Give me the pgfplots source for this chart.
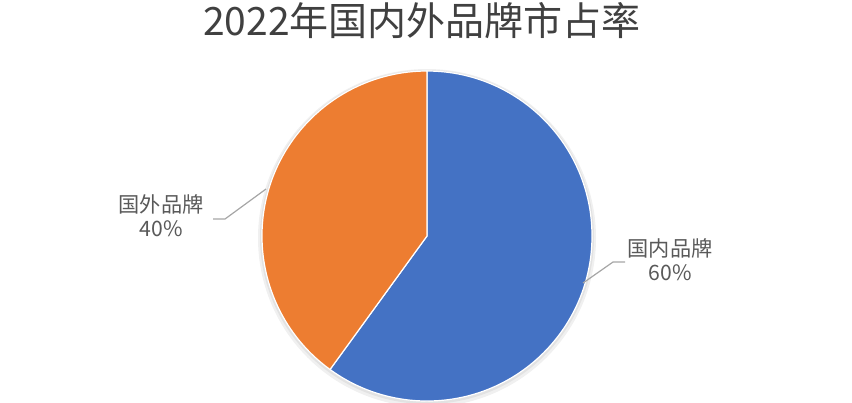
\documentclass[border=0pt]{standalone}
\usepackage{pgfplots}
\pgfplotsset{compat=1.18}
\usepackage{pgfplotstable}
\usepackage{fontspec}
\setmainfont{Noto Sans CJK SC}
\definecolor{pieblue}{HTML}{4472C4}
\definecolor{pieorange}{HTML}{ED7D31}
\definecolor{txtgray}{HTML}{595959}
\definecolor{titlegray}{HTML}{404040}
\definecolor{linegray}{HTML}{A6A6A6}
\pgfplotstableread{
brand share
国内品牌 60
国外品牌 40
}\sharetable
\begin{document}
\begin{tikzpicture}
\pgfplotstablegetelem{0}{share}\of\sharetable \let\shareA\pgfplotsretval
\pgfplotstablegetelem{1}{share}\of\sharetable \let\shareB\pgfplotsretval
\pgfmathsetmacro{\endA}{90-3.6*\shareA}
\begin{axis}[
  width=426pt, height=201pt, scale only axis,
  xmin=0, xmax=852, ymin=0, ymax=402,
  hide axis, clip=false,
]
\path[use as bounding box] (axis cs:0,0) rectangle (axis cs:852,402);
% soft shadow
\fill[black,opacity=0.06] (axis cs:427,164) circle[radius=84.5pt];
\fill[black,opacity=0.06] (axis cs:427,165) circle[radius=83.5pt];
% slices
\fill[pieblue,draw=white,line width=0.6pt] (axis cs:427,166) -- +(90:82.5pt) arc[start angle=90, end angle=\endA, radius=82.5pt] -- cycle;
\fill[pieorange,draw=white,line width=0.6pt] (axis cs:427,166) -- +(\endA:82.5pt) arc[start angle=\endA, end angle=-270, radius=82.5pt] -- cycle;
% leader lines
\draw[linegray,line width=0.6pt] (axis cs:213,183) -- (axis cs:225,183) -- (axis cs:266,213);
\draw[linegray,line width=0.6pt] (axis cs:583,119) -- (axis cs:613,140) -- (axis cs:625,140);
% labels
\node[txtgray,font=\fontsize{10.6pt}{12pt}\selectfont,align=center] at (axis cs:161,186) {国外品牌\\40\%};
\node[txtgray,font=\fontsize{10.6pt}{12pt}\selectfont,align=center] at (axis cs:670,142) {国内品牌\\60\%};
% title
\node[titlegray,font=\fontsize{19.5pt}{22pt}\selectfont] at (axis cs:422,381) {2022年国内外品牌市占率};
\end{axis}
\end{tikzpicture}
\end{document}
